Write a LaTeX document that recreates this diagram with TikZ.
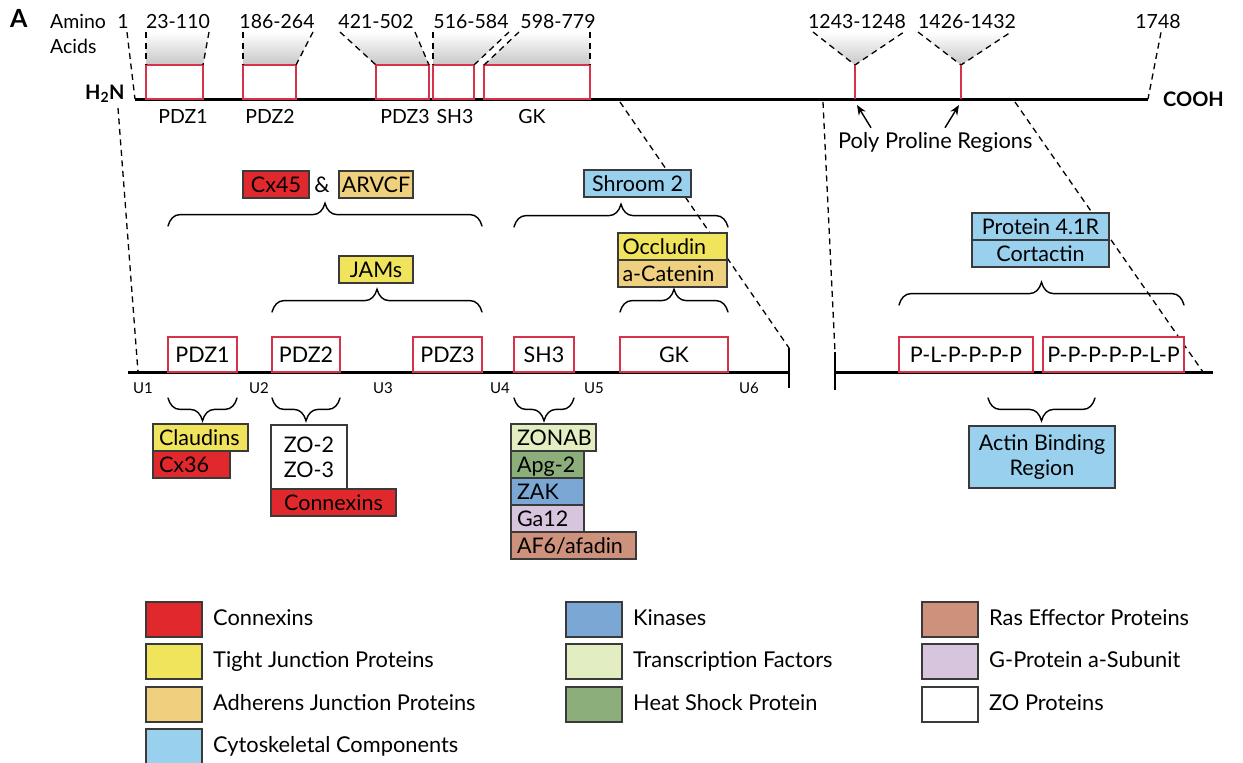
\documentclass[tikz,border=0pt]{standalone}
\usepackage{fontspec}
\setmainfont{Lato}
\usetikzlibrary{positioning,arrows.meta,decorations.pathreplacing}

\definecolor{domred}{HTML}{D8324A}
\definecolor{cxred}{HTML}{E1282D}
\definecolor{tjyel}{HTML}{F1E45D}
\definecolor{ajtan}{HTML}{EFD07F}
\definecolor{cytblu}{HTML}{98D0EE}
\definecolor{kinblu}{HTML}{7AA7D4}
\definecolor{tfgrn}{HTML}{E3EDC2}
\definecolor{hsgrn}{HTML}{8BAE7B}
\definecolor{rasbrn}{HTML}{CD917C}
\definecolor{gprot}{HTML}{D7C5DE}
\definecolor{edge}{HTML}{3A3A3A}

\def\fnum{\fontsize{19.5}{23}\selectfont}
\def\ftag{\fontsize{21.5}{25}\selectfont}
\def\fleg{\fontsize{21.8}{25}\selectfont}
\def\fuu{\fontsize{15}{17}\selectfont}
\def\fhead{\fontsize{25}{28}\selectfont\bfseries}

\begin{document}
\begin{tikzpicture}[x=1pt,y=-1pt]
  \tikzset{
    dom/.style={draw=domred,line width=2.8pt,fill=white,inner sep=0pt,outer sep=0pt,font=\ftag,minimum height=35pt,anchor=south west,text height=15pt,text depth=0pt},
    tag/.style={draw=edge,line width=1.3pt,inner sep=0pt,outer sep=0pt,anchor=north west,font=\ftag,minimum height=27pt},
    one/.style={text height=15pt,text depth=0pt},
    lbl/.style={font=\fnum,inner sep=0pt,anchor=base},
    cut/.style={dashed,dash pattern=on 6pt off 4.5pt,line width=1.3pt},
    spine/.style={line width=3pt},
    brc/.style={decorate,decoration={brace,amplitude=12pt,transform={yscale=1.9}},line width=1.4pt,line cap=round},
    fade/.style={top color=white,bottom color=black!22}
  }
  \useasboundingbox (0,0) rectangle (1243,763);

  % amino acid ruler
  \node[font=\fhead,inner sep=0pt,anchor=base west] (panel) at (10,27) {A};
  \node[lbl,anchor=base west] (amino) at (50,28) {Amino};
  \node[lbl,anchor=base west] (acids) at (50,53) {Acids};
  \foreach \n/\x/\t in {1/123/1, 2/178/23-110, 3/277/186-264, 4/376/421-502, 5/471/516-584, 6/558/598-779, 7/857/1243-1248, 8/967/1426-1432, 9/1158/1748}
    \node[lbl] (num\n) at (\x,28) {\t};

  \coordinate (nterm) at (135,99);
  \coordinate (cterm) at (1148,99);
  \draw[spine] (nterm) -- (cterm);
  \node[font=\fontsize{20}{22}\selectfont\bfseries,inner sep=0pt,anchor=base west] (h2n) at (85,99) {H\textsubscript{2}N};
  \node[font=\fontsize{20}{22}\selectfont\bfseries,inner sep=0pt,anchor=base west] (cooh) at (1163,106) {COOH};
  \draw[cut] ([xshift=4pt,yshift=-4pt]num1.south) -- (nterm);
  \draw[cut] ([xshift=3pt,yshift=-4pt]num9.south) -- (cterm);

  \foreach \n/\ta/\ba/\tb/\bb in {pdz1/146/146/209/203, pdz2/243/243/313/296, pdz3/340/376/415/429, sh3/433/433/509/474, gk/519/484/590/590} {
    \shade[fade] (\ta,32) -- (\ba,65) -- (\bb,65) -- (\tb,32) -- cycle;
    \node[dom,minimum width=\bb-\ba,minimum height=34pt] (t\n) at (\ba,99) {};
    \draw[cut] (\ta,32) -- (t\n.north west);
    \draw[cut] (\tb,32) -- (t\n.north east);
  }
  \foreach \n/\x/\t in {pdz1/183/PDZ1, pdz2/270/PDZ2, pdz3/405/PDZ3, sh3/455/SH3, gk/532/GK}
    \node[lbl] (l\n) at (\x,123) {\t};

  % poly proline sites
  \foreach \n/\x/\l/\r in {1/855/813/904, 2/961/918/1011} {
    \shade[fade] (\l,32) -- (\x,65) -- (\r,32) -- cycle;
    \draw[cut] (\l,32) -- (\x,65) -- (\r,32);
    \draw[domred,line width=2.6pt] (\x,65) -- (\x,99);
  }
  \coordinate (pp1) at (857,105);
  \coordinate (pp2) at (959,105);
  \node[font=\fleg,inner sep=0pt,anchor=base west] (ppr) at (838,148) {Poly Proline Regions};
  \draw[-{Stealth[length=10pt,width=8pt]},line width=1.4pt] ([xshift=33pt,yshift=4pt]ppr.north west) -- (pp1);
  \draw[-{Stealth[length=10pt,width=8pt]},line width=1.4pt] ([xshift=107pt,yshift=4pt]ppr.north west) -- (pp2);

  % expanded view
  \coordinate (hfoot) at (118,108);
  \coordinate (gkcut) at (620,102);
  \coordinate (ppcut) at (823,102);
  \coordinate (ccut) at (1015,102);
  \coordinate (ustart) at (128,372);
  \coordinate (uend) at (789,372);
  \coordinate (vstart) at (835,372);
  \coordinate (vend) at (1213,372);
  \draw[cut] (hfoot) -- ([xshift=10pt]ustart);
  \draw[cut] (gkcut) -- ([yshift=24pt]uend);
  \draw[cut] (ppcut) -- ([yshift=20pt]vstart);
  \draw[cut] (ccut) -- ([xshift=-10pt]vend);
  \draw[spine] (ustart) -- (uend);
  \draw[spine] (vstart) -- (vend);
  \draw[line width=1.5pt] ([yshift=24pt]uend) -- ([yshift=-16pt]uend);
  \draw[line width=1.5pt] ([yshift=20pt]vstart) -- ([yshift=-18pt]vstart);

  \node[dom,minimum width=69pt] (pdz1) at (168,372) {PDZ1};
  \node[dom,minimum width=68pt] (pdz2) at (272,372) {PDZ2};
  \node[dom,minimum width=69pt] (pdz3) at (413,372) {PDZ3};
  \node[dom,minimum width=60pt] (sh3) at (514,372) {SH3};
  \node[dom,minimum width=108pt] (gk) at (620,372) {GK};
  \node[dom,minimum width=134pt] (plp) at (899,372) {P-L-P-P-P-P};
  \node[dom,minimum width=141pt] (ppp) at (1043,372) {P-P-P-P-P-L-P};
  \foreach \u/\x in {1/143,2/259,3/383,4/500,5/594,6/749}
    \node[font=\fuu,inner sep=0pt,anchor=base] (u\u) at (\x,393) {U\u};

  % binding partners above
  \draw[brc] ([yshift=111pt]pdz1.north west) -- ([yshift=111pt]pdz3.north east);
  \node[tag,one,fill=cxred,minimum width=66pt] (cx45) at (243,171) {Cx45};
  \node[font=\ftag,one,inner sep=0pt] (amp) at (322,184.5) {\&};
  \node[tag,one,fill=ajtan,minimum width=74pt] (arvcf) at (339,171) {ARVCF};
  \draw[brc] ([yshift=25pt]pdz2.north west) -- ([yshift=25pt]pdz3.north east);
  \node[tag,one,fill=tjyel,minimum width=74pt] (jams) at (339,256) {JAMs};
  \draw[brc] ([yshift=110pt]sh3.north west) -- ([yshift=110pt]gk.north east);
  \node[tag,one,fill=cytblu,minimum width=107pt] (shroom) at (584,170) {Shroom 2};
  \draw[brc] ([yshift=25pt]gk.north west) -- ([yshift=25pt]gk.north east);
  \node[tag,one,fill=tjyel,text width=100pt,inner xsep=4.5pt,align=left] (occl) at (618,233) {Occludin};
  \node[tag,one,fill=ajtan,text width=100pt,inner xsep=4.5pt,align=left,below=0pt of occl] (acat) {a-Catenin};
  \draw[brc] ([yshift=32pt]plp.north west) -- ([yshift=32pt]ppp.north east);
  \node[tag,one,fill=cytblu,minimum width=137pt] (p41r) at (972,213) {Protein 4.1R};
  \node[tag,one,fill=cytblu,minimum width=137pt,below=0pt of p41r] (cort) {Cortactin};

  % binding partners below
  \draw[brc] ([yshift=-26pt]pdz1.south east) -- ([yshift=-26pt]pdz1.south west);
  \draw[brc] ([yshift=-26pt]pdz2.south east) -- ([yshift=-26pt]pdz2.south west);
  \draw[brc] ([yshift=-26pt]sh3.south east) -- ([yshift=-26pt]sh3.south west);
  \draw[brc] ([xshift=52pt,yshift=-26pt]ppp.south west) -- ([xshift=-45pt,yshift=-26pt]plp.south east);
  \node[tag,one,fill=tjyel,text width=83pt,inner xsep=6pt,align=left] (claud) at (153,424) {Claudins};
  \node[tag,one,fill=cxred,text width=65pt,inner xsep=6pt,align=left] (cx36) at (claud.south west) {Cx36};
  \node[tag,fill=white,minimum width=76pt,minimum height=64pt,align=center] (zo) at (271,425) {ZO-2\\ZO-3};
  \node[tag,one,fill=cxred,minimum width=125pt] (cnx) at (zo.south west) {Connexins};
  \node[tag,one,fill=tfgrn,text width=73pt,inner xsep=6pt,align=left] (zonab) at (511,424) {ZONAB};
  \node[tag,one,fill=hsgrn,text width=61pt,inner xsep=6pt,align=left] (apg) at (zonab.south west) {Apg-2};
  \node[tag,one,fill=kinblu,text width=61pt,inner xsep=6pt,align=left] (zak) at (apg.south west) {ZAK};
  \node[tag,one,fill=gprot,text width=61pt,inner xsep=6pt,align=left] (ga) at (zak.south west) {Ga12};
  \node[tag,one,fill=rasbrn,text width=113pt,inner xsep=6pt,align=left] (afad) at (ga.south west) {AF6/afadin};
  \node[tag,fill=cytblu,minimum width=146pt,minimum height=62pt,align=center] (actin) at (969,426) {Actin Binding\\Region};

  % legend
  \foreach \n/\c/\x/\y/\t in {cx/cxred/146/602/Connexins, tj/tjyel/146/644/Tight Junction Proteins, aj/ajtan/146/687/Adherens Junction Proteins, cy/cytblu/146/729/Cytoskeletal Components, ki/kinblu/566/602/Kinases, tf/tfgrn/566/644/Transcription Factors, hs/hsgrn/566/687/Heat Shock Protein, ra/rasbrn/922/602/Ras Effector Proteins, gp/gprot/922/644/G-Protein a-Subunit, zo/white/922/687/ZO Proteins} {
    \node[tag,fill=\c,minimum width=56pt,minimum height=35pt] (sw\n) at (\x,\y) {};
    \node[font=\fleg,one,inner sep=0pt,anchor=west] (lg\n) at ([xshift=11pt,yshift=2pt]sw\n.east) {\t};
  }
\end{tikzpicture}
\end{document}
